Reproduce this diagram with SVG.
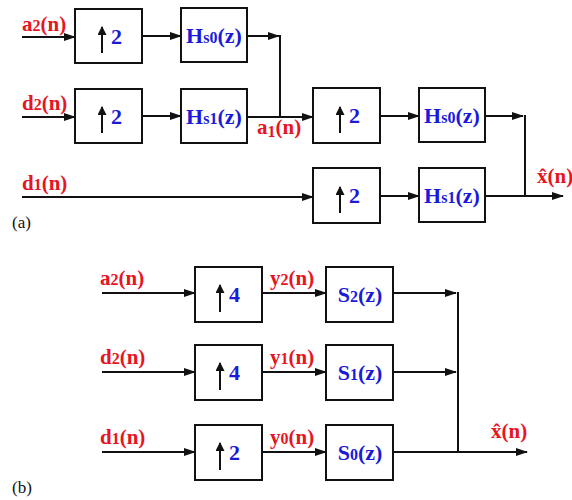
<svg xmlns="http://www.w3.org/2000/svg" width="572" height="500" viewBox="0 0 572 500">
<style>
.box{fill:#fff;stroke:#111;stroke-width:2}
.ln{fill:none;stroke:#111;stroke-width:2}
.ar{marker-end:url(#ah)}
.up{fill:none;stroke:#111;stroke-width:2;marker-end:url(#uh)}
.lab{font-family:"Liberation Serif",serif;font-weight:bold;font-size:21px;fill:#e8141e}
.blk{font-family:"Liberation Serif",serif;font-weight:bold;font-size:22px;fill:#1a1ad8}
.sub{font-size:16px}
.cap{font-family:"Liberation Serif",serif;font-size:17px;fill:#111}
</style>
<defs>
<marker id="ah" markerWidth="12" markerHeight="8" refX="11" refY="4" orient="auto" markerUnits="userSpaceOnUse"><path d="M0,0 L12,4 L0,8 z" fill="#111"/></marker>
<marker id="uh" markerWidth="10" markerHeight="9" refX="8" refY="4.5" orient="auto" markerUnits="userSpaceOnUse"><path d="M0,0 L9,4.5 L0,9 z" fill="#111"/></marker>
</defs>

<g id="connectors">
<path class="ln ar" d="M22,37 H75"/>
<path class="ln ar" d="M142,36 H181"/>
<path class="ln ar" d="M247,36 H279"/>
<path class="ln" d="M280,35 V117"/>
<path class="ln ar" d="M22,117 H75"/>
<path class="ln ar" d="M142,116 H181"/>
<path class="ln ar" d="M247,117 H313"/>
<path class="ln ar" d="M380,116 H419"/>
<path class="ln ar" d="M485,116 H523"/>
<path class="ln" d="M525,115 V197"/>
<path class="ln ar" d="M22,197 H313"/>
<path class="ln ar" d="M380,196 H419"/>
<path class="ln ar" d="M485,196 H563"/>
<path class="ln ar" d="M102,293 H195"/>
<path class="ln ar" d="M262,293 H326"/>
<path class="ln ar" d="M393,293 H456"/>
<path class="ln ar" d="M102,372 H195"/>
<path class="ln ar" d="M262,372 H326"/>
<path class="ln ar" d="M393,372 H456"/>
<path class="ln ar" d="M102,452 H195"/>
<path class="ln ar" d="M262,452 H326"/>
<path class="ln" d="M458,292 V453"/>
<path class="ln ar" d="M393,452 H527"/>
</g>

<g id="labels">
<text class="lab" x="22" y="31">a<tspan class="sub">2</tspan>(n)</text>
<text class="lab" x="22" y="110">d<tspan class="sub">2</tspan>(n)</text>
<text class="lab" x="22" y="190">d<tspan class="sub">1</tspan>(n)</text>
<text class="lab" x="257" y="134">a<tspan class="sub" dy="3">1</tspan><tspan dy="-3">(n)</tspan></text>
<text class="lab" x="537" y="183">x̂(n)</text>
<text class="cap" x="12" y="228">(a)</text>
<text class="lab" x="100" y="285">a<tspan class="sub">2</tspan>(n)</text>
<text class="lab" x="100" y="364">d<tspan class="sub">2</tspan>(n)</text>
<text class="lab" x="100" y="444">d<tspan class="sub">1</tspan>(n)</text>
<text class="lab" x="270" y="285">y<tspan class="sub">2</tspan>(n)</text>
<text class="lab" x="270" y="364">y<tspan class="sub">1</tspan>(n)</text>
<text class="lab" x="270" y="444">y<tspan class="sub">0</tspan>(n)</text>
<text class="lab" x="491" y="438">x̂(n)</text>
<text class="cap" x="12" y="493">(b)</text>
</g>

<g id="up2a1"><rect class="box" x="75" y="9" width="67" height="54"/><path class="up" d="M102,53 V27"/><text class="blk" x="111" y="44">2</text></g>
<g id="hs0a"><rect class="box" x="181" y="8" width="66" height="54"/><text class="blk" x="214" y="43" text-anchor="middle">H<tspan class="sub">s0</tspan>(z)</text></g>
<g id="up2a2"><rect class="box" x="75" y="89" width="67" height="54"/><path class="up" d="M102,133 V107"/><text class="blk" x="111" y="124">2</text></g>
<g id="hs1a"><rect class="box" x="181" y="89" width="66" height="54"/><text class="blk" x="214" y="124" text-anchor="middle">H<tspan class="sub">s1</tspan>(z)</text></g>
<g id="up2a3"><rect class="box" x="313" y="88" width="67" height="55"/><path class="up" d="M340,133 V107"/><text class="blk" x="349" y="123">2</text></g>
<g id="hs0b"><rect class="box" x="419" y="88" width="66" height="54"/><text class="blk" x="452" y="123" text-anchor="middle">H<tspan class="sub">s0</tspan>(z)</text></g>
<g id="up2a4"><rect class="box" x="313" y="168" width="67" height="55"/><path class="up" d="M340,213 V187"/><text class="blk" x="349" y="203">2</text></g>
<g id="hs1b"><rect class="box" x="419" y="168" width="66" height="54"/><text class="blk" x="452" y="203" text-anchor="middle">H<tspan class="sub">s1</tspan>(z)</text></g>

<g id="up4b1"><rect class="box" x="195" y="267" width="67" height="55"/><path class="up" d="M220,312 V285"/><text class="blk" x="229" y="302">4</text></g>
<g id="s2"><rect class="box" x="326" y="267" width="67" height="55"/><text class="blk" x="360" y="302" text-anchor="middle">S<tspan class="sub">2</tspan>(z)</text></g>
<g id="up4b2"><rect class="box" x="195" y="345" width="67" height="55"/><path class="up" d="M220,390 V363"/><text class="blk" x="229" y="380">4</text></g>
<g id="s1"><rect class="box" x="326" y="345" width="67" height="55"/><text class="blk" x="360" y="380" text-anchor="middle">S<tspan class="sub">1</tspan>(z)</text></g>
<g id="up2b3"><rect class="box" x="195" y="425" width="67" height="55"/><path class="up" d="M220,470 V443"/><text class="blk" x="229" y="460">2</text></g>
<g id="s0"><rect class="box" x="326" y="425" width="67" height="55"/><text class="blk" x="360" y="460" text-anchor="middle">S<tspan class="sub">0</tspan>(z)</text></g>
</svg>
